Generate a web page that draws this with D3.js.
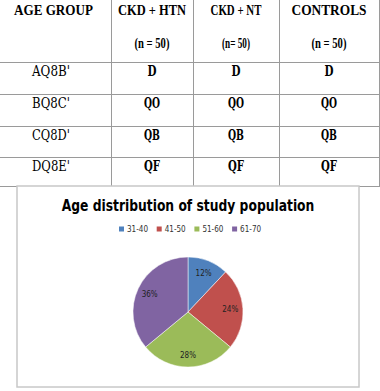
<!DOCTYPE html>
<html>
<head>
<meta charset="utf-8">
<script src="https://cdn.jsdelivr.net/npm/d3@7"></script>
<style>
  body { margin: 0; background: #fff; }
  svg { display: block; }
</style>
</head>
<body>
<div id="chart"></div>
<script>
// table
var headers = ["AGE GROUP", "CKD + HTN", "CKD + NT", "CONTROLS"];
var headerW = [79, 68, 51, 75];
var subHeaders = ["", "(n = 50)", "(n= 50)", "(n = 50)"];
var subW = [0, 35, 28, 35];
var rowLabels = ["AQ8B'", "BQ8C'", "CQ8D'", "DQ8E'"];   // glyphs as rendered in source
var cellText = ["D", "QO", "QB", "QF"];
// pie
var ageGroups = ["31-40", "41-50", "51-60", "61-70"];
var percents = [12, 24, 28, 36];
var colors = ["#4F81BD", "#C0504D", "#9BBB59", "#8064A2"];

var W = 380, H = 391;
var svg = d3.select("#chart").append("svg").attr("width", W).attr("height", H);

// column / row geometry of the table
var colEdges = [-8, 111, 193, 279, 379];
var rowEdges = [-1, 62, 94, 126, 157, 186];
var grid = "#9a9a9a";

var tbl = svg.append("g").attr("class", "table");
colEdges.slice(1).forEach(x => {
  tbl.append("line").attr("x1", x + 0.5).attr("x2", x + 0.5)
    .attr("y1", 0).attr("y2", rowEdges[5]).attr("stroke", grid);
});
rowEdges.slice(1).forEach(y => {
  tbl.append("line").attr("x1", 0).attr("x2", colEdges[4] + 1)
    .attr("y1", y + 0.5).attr("y2", y + 0.5).attr("stroke", grid);
});

var mid = i => (colEdges[i] + colEdges[i + 1]) / 2;
var serifB = "bold 14px 'Liberation Serif'";

// squeeze a text horizontally to a target width, keeping it centred on x
function fitWidth(sel, x, w) {
  var n = sel.node().getComputedTextLength();
  var k = Math.min(1.3, w / n);
  sel.attr("x", 0).attr("transform", "translate(" + x + "," + sel.attr("y") + ") scale(" + k + ",1)").attr("y", 0);
}

headers.forEach((h, i) => {
  var t = tbl.append("text").attr("y", 15)
    .attr("text-anchor", "middle").style("font", serifB).text(h);
  fitWidth(t, i === 0 ? 53.5 : mid(i), headerW[i]);
  if (subHeaders[i]) {
    var s = tbl.append("text").attr("y", 48)
      .attr("text-anchor", "middle").style("font", serifB).text(subHeaders[i]);
    fitWidth(s, mid(i), subW[i]);
  }
});

rowLabels.forEach((r, j) => {
  var y = rowEdges[j + 1] + 14;
  var t = tbl.append("text").attr("y", y).attr("text-anchor", "middle")
    .style("font", "14px 'DejaVu Serif'").text(r);
  fitWidth(t, 51, 38);
  for (var c = 1; c < 4; c++) {
    var s = tbl.append("text").attr("y", y).attr("text-anchor", "middle")
      .style("font", "bold 15px 'DejaVu Serif'").text(cellText[j]);
    fitWidth(s, mid(c), cellText[j].length > 1 ? 16 : 9);
  }
});

// chart box
var box = svg.append("g").attr("class", "pie-chart");
box.append("rect").attr("x", 17).attr("y", 186).attr("width", 342).attr("height", 201)
  .attr("fill", "#fff").attr("stroke", "#c8c8c8").attr("stroke-width", 1.5);

var title = box.append("text").attr("y", 211).attr("text-anchor", "middle")
  .style("font", "bold 16px 'DejaVu Sans'")
  .text("Age distribution of study population");
fitWidth(title, 188, 253);

// legend
var legend = box.selectAll(".leg").data(ageGroups).enter().append("g")
  .attr("class", "leg")
  .attr("transform", (d, i) => "translate(" + (119 + i * 37.7) + ",229)");
legend.append("rect").attr("x", 0).attr("y", -2.5).attr("width", 5).attr("height", 5)
  .attr("fill", (d, i) => colors[i]);
legend.append("text").attr("x", 8).attr("y", 3)
  .style("font", "8px 'DejaVu Sans'").attr("fill", "#333")
  .attr("textLength", 21).attr("lengthAdjust", "spacingAndGlyphs")
  .text(d => d);

// pie
var cx = 188, cy = 312, r = 55;
var pie = d3.pie().sort(null).value(d => d);
var arc = d3.arc().innerRadius(0).outerRadius(r);
var labelArc = d3.arc().innerRadius(r * 0.77).outerRadius(r * 0.77);
var pg = box.append("g").attr("transform", "translate(" + cx + "," + cy + ")");
var arcs = pie(percents);
pg.selectAll("path").data(arcs).enter().append("path")
  .attr("d", arc).attr("fill", (d, i) => colors[i])
  .attr("stroke", "#fff").attr("stroke-width", 0.5);
pg.selectAll("text").data(arcs).enter().append("text")
  .attr("transform", d => "translate(" + labelArc.centroid(d) + ")")
  .attr("text-anchor", "middle").attr("dy", "0.35em")
  .style("font", "9px 'DejaVu Sans'").attr("fill", "#222")
  .attr("textLength", 16).attr("lengthAdjust", "spacingAndGlyphs")
  .text(d => d.data + "%");
</script>
</body>
</html>
